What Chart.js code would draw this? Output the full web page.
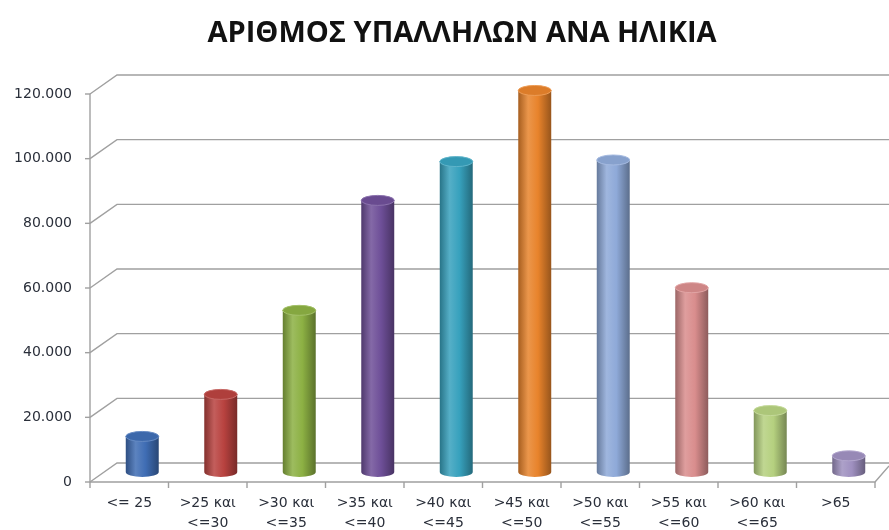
<!DOCTYPE html>
<html>
<head>
<meta charset="utf-8">
<script src="https://cdn.jsdelivr.net/npm/chart.js@4"></script>
<style>
  html, body { margin: 0; padding: 0; background: #fff; }
  #wrap { width: 889px; height: 530px; }
</style>
</head>
<body>
<div id="wrap"><canvas id="ageChart"></canvas></div>
<script>
const chartTitle = 'ΑΡΙΘΜΟΣ ΥΠΑΛΛΗΛΩΝ ΑΝΑ ΗΛΙΚΙΑ'
const categories = [
  ['<= 25'], ['>25 και', '<=30'], ['>30 και', '<=35'], ['>35 και', '<=40'], ['>40 και', '<=45'],
  ['>45 και', '<=50'], ['>50 και', '<=55'], ['>55 και', '<=60'], ['>60 και', '<=65'], ['>65']
]
const employees = [11000, 24000, 50000, 84000, 96000, 118000, 96500, 57000, 19000, 5000]
const barColors = ['#3f6db4', '#b8423f', '#8cb043', '#6e4f98', '#37a1bd', '#e8832b', '#8ea9d8', '#d98d8d', '#b5d07f', '#9f90c0']
const yTickValues = [0, 20000, 40000, 60000, 80000, 100000, 120000]
const yTickLabels = ['0', '20.000', '40.000', '60.000', '80.000', '100.000', '120.000']

// shade a hex colour (f < 1 darker, f > 1 lighter)
function shade(hex, f) {
  const n = parseInt(hex.slice(1), 16)
  let r = n >> 16, g = (n >> 8) & 255, b = n & 255
  const mix = c => f < 1 ? Math.round(c * f) : Math.round(c + (255 - c) * (f - 1))
  return 'rgb(' + mix(r) + ',' + mix(g) + ',' + mix(b) + ')'
}

// fake 3d walls like the excel chart + cylinder bars + title
const wallsPlugin = {
  id: 'walls',
  beforeDatasetsDraw(chart) {
    const ctx = chart.ctx
    const area = chart.chartArea
    const y = chart.scales.y
    const frontX = area.left - 13
    const backX = area.left + 14
    const catW = (area.right - area.left) / categories.length
    const frontRight = frontX + catW * categories.length
    ctx.save()
    ctx.strokeStyle = '#a0a0a0'
    ctx.lineWidth = 1.4
    yTickValues.forEach(v => {
      const mid = y.getPixelForValue(v)
      ctx.beginPath()
      ctx.moveTo(frontX, mid + 10)
      ctx.lineTo(backX, mid - 9)
      ctx.lineTo(chart.width, mid - 9)
      ctx.stroke()
      // small tick on the front axis
      ctx.beginPath()
      ctx.moveTo(frontX - 5, mid + 10)
      ctx.lineTo(frontX, mid + 10)
      ctx.stroke()
    })
    const top = y.getPixelForValue(yTickValues[yTickValues.length - 1]) + 10
    const bottom = y.getPixelForValue(0) + 10
    ctx.beginPath()
    ctx.moveTo(frontX, top)
    ctx.lineTo(frontX, bottom)
    ctx.lineTo(frontRight, bottom)
    ctx.lineTo(chart.width, bottom - 16)
    ctx.stroke()
    for (let i = 0; i <= categories.length; i++) {
      const px = frontX + catW * i
      ctx.beginPath()
      ctx.moveTo(px, bottom)
      ctx.lineTo(px, bottom + 6)
      ctx.stroke()
    }
    ctx.restore()
  },
  afterDatasetsDraw(chart) {
    const ctx = chart.ctx
    const meta = chart.getDatasetMeta(0)
    meta.data.forEach((bar, i) => {
      const p = bar.getProps(['x', 'y', 'base', 'width'], true)
      const l = p.x - p.width / 2
      const r = p.x + p.width / 2
      const ry = 5
      const c = barColors[i]
      const grad = ctx.createLinearGradient(l, 0, r, 0)
      grad.addColorStop(0, shade(c, 0.72))
      grad.addColorStop(0.3, shade(c, 1.15))
      grad.addColorStop(0.6, c)
      grad.addColorStop(1, shade(c, 0.65))
      ctx.save()
      ctx.fillStyle = grad
      ctx.beginPath()
      ctx.moveTo(l, p.y)
      ctx.lineTo(l, p.base)
      ctx.ellipse(p.x, p.base, p.width / 2, ry, 0, Math.PI, 0, true)
      ctx.lineTo(r, p.y)
      ctx.closePath()
      ctx.fill()
      ctx.beginPath()
      ctx.ellipse(p.x, p.y, p.width / 2, ry, 0, 0, Math.PI * 2)
      ctx.fillStyle = shade(c, 0.95)
      ctx.fill()
      ctx.strokeStyle = shade(c, 1.2)
      ctx.lineWidth = 1
      ctx.stroke()
      ctx.restore()
    })
  },
  afterDraw(chart) {
    const ctx = chart.ctx
    ctx.save()
    ctx.font = 'bold 29px "Open Sans"'
    ctx.fillStyle = '#111'
    ctx.textAlign = 'center'
    ctx.textBaseline = 'middle'
    ctx.fillText(chartTitle, 462, 34)
    ctx.restore()
  }
}

new Chart(document.getElementById('ageChart'), {
  type: 'bar',
  data: {
    labels: categories,
    datasets: [{
      data: employees,
      backgroundColor: 'rgba(0,0,0,0)',
      categoryPercentage: 1,
      barPercentage: 0.42
    }]
  },
  options: {
    responsive: true,
    maintainAspectRatio: false,
    animation: false,
    layout: { padding: { left: 8, right: 1, top: 84, bottom: 0 } },
    plugins: {
      legend: { display: false },
      tooltip: { enabled: false },
      title: { display: false }
    },
    scales: {
      x: {
        grid: { display: false, drawTicks: false },
        border: { display: false },
        ticks: {
          color: '#2a2f3a',
          font: { family: 'DejaVu Sans', size: 14, lineHeight: 1.45 },
          padding: 21,
          labelOffset: -13,
          maxRotation: 0,
          autoSkip: false
        },
        afterFit: s => { s.height = 58 }
      },
      y: {
        min: 0,
        max: 120000,
        afterBuildTicks: s => { s.ticks = yTickValues.map(v => ({ value: v })) },
        grid: { display: false, drawTicks: false },
        border: { display: false },
        ticks: {
          color: '#2a2f3a',
          font: { family: 'DejaVu Sans', size: 14 },
          padding: 31,
          labelOffset: 10,
          callback: (v, i) => yTickLabels[i]
        },
        afterFit: s => { s.width = 95 }
      }
    }
  },
  plugins: [wallsPlugin]
})
</script>
</body>
</html>
